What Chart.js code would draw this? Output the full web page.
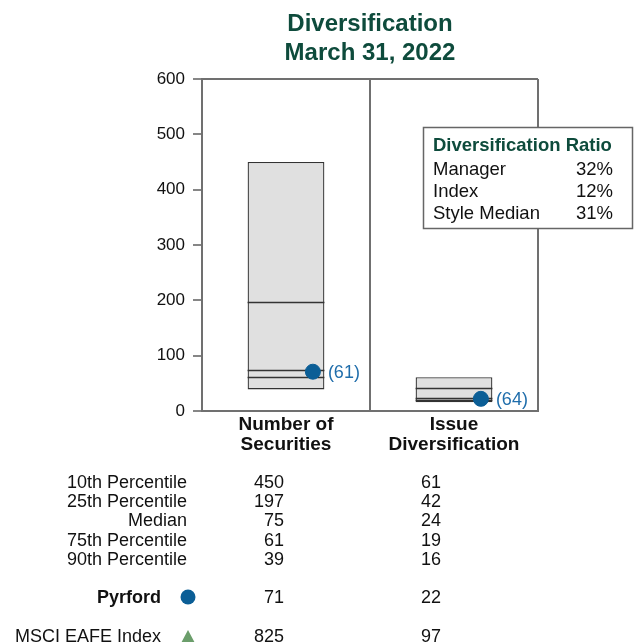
<!DOCTYPE html>
<html>
<head>
<meta charset="utf-8">
<script src="https://cdn.jsdelivr.net/npm/chart.js@4/dist/chart.umd.min.js"></script>
<style>
  html, body { margin: 0; padding: 0; background: #fff; }
  #wrap { width: 639px; height: 642px; position: relative; overflow: hidden; }
</style>
</head>
<body>
<div id="wrap"><canvas id="c"></canvas></div>
<script>
// Universe distribution per statistic
const categories = [['Number of', 'Securities'], ['Issue', 'Diversification']];
const p10 = [450, 61];
const p25 = [197, 42];
const median = [75, 24];
const p75 = [61, 19];
const p90 = [39, 16];

// Manager and benchmark
const pyrford = [71, 22];
const pyrfordRank = [61, 64];
const msciEafe = [825, 97];

const rowLabels = ['10th Percentile', '25th Percentile', 'Median', '75th Percentile', '90th Percentile'];
const ratioLabels = ['Manager', 'Index', 'Style Median'];
const ratioValues = ['32%', '12%', '31%'];

const yMin = 0, yMax = 600, yStep = 100;

const FONT = '"Liberation Sans", Arial, Helvetica, sans-serif';
const GREEN = '#0e4b3c';
const BLUE_DOT = '#0b5e96';
const BLUE_TXT = '#1f6dab';
const FRAME = '#707070';

const overlay = {
  id: 'overlay',
  afterDatasetDraw(chart, args) {
    if (args.index !== 0) return;
    const ctx = chart.ctx;
    const y = chart.scales.y;
    const meta = chart.getDatasetMeta(0);
    ctx.save();
    ctx.strokeStyle = '#333';
    ctx.lineWidth = 1.3;
    meta.data.forEach((bar, i) => {
      const half = bar.width / 2;
      [p25[i], median[i], p75[i]].forEach(v => {
        const py = Math.round(y.getPixelForValue(v)) + 0.5;
        ctx.beginPath();
        ctx.moveTo(bar.x - half, py);
        ctx.lineTo(bar.x + half, py);
        ctx.stroke();
      });
    });
    ctx.restore();
  },
  afterDraw(chart) {
    const ctx = chart.ctx;
    const area = chart.chartArea;
    const x = chart.scales.x;
    ctx.save();

    // Title
    const cx = (area.left + area.right) / 2;
    ctx.fillStyle = GREEN;
    ctx.font = 'bold 24px ' + FONT;
    ctx.textAlign = 'center';
    ctx.textBaseline = 'alphabetic';
    ctx.fillText('Diversification', cx, 31);
    ctx.fillText('March 31, 2022', cx, 60);

    // Rank labels beside the manager dots
    const pm = chart.getDatasetMeta(1);
    ctx.font = '18px ' + FONT;
    ctx.fillStyle = BLUE_TXT;
    ctx.textAlign = 'left';
    ctx.textBaseline = 'middle';
    pm.data.forEach((pt, i) => {
      ctx.fillText('(' + pyrfordRank[i] + ')', pt.x + 15, pt.y + 1);
    });

    // Diversification ratio box
    const bx = 423.5, by = 127.5, bw = 209, bh = 101;
    ctx.fillStyle = '#fff';
    ctx.fillRect(bx, by, bw, bh);
    ctx.strokeStyle = '#666';
    ctx.lineWidth = 1.5;
    ctx.strokeRect(bx, by, bw, bh);
    ctx.textBaseline = 'alphabetic';
    ctx.textAlign = 'left';
    ctx.fillStyle = GREEN;
    ctx.font = 'bold 18.5px ' + FONT;
    ctx.fillText('Diversification Ratio', bx + 9.5, 151);
    ctx.font = '18.5px ' + FONT;
    ctx.fillStyle = '#111';
    ratioLabels.forEach((lab, i) => {
      const ly = 175 + i * 22;
      ctx.textAlign = 'left';
      ctx.fillText(lab, bx + 9.5, ly);
      ctx.textAlign = 'right';
      ctx.fillText(ratioValues[i], 613, ly);
    });

    // Statistics table
    const col0 = x.getPixelForValue(0) - 2;
    const col1 = x.getPixelForValue(1) - 13;
    const labRight = 187;
    const base = area.bottom;
    ctx.fillStyle = '#111';
    ctx.font = '18px ' + FONT;
    const stats = [p10, p25, median, p75, p90];
    rowLabels.forEach((lab, r) => {
      const ly = base + 77 + r * 19.2;
      ctx.textAlign = 'right';
      ctx.fillText(lab, labRight, ly);
      ctx.fillText(String(stats[r][0]), col0, ly);
      ctx.fillText(String(stats[r][1]), col1, ly);
    });

    // Manager row
    const yMgr = base + 192;
    ctx.font = 'bold 18px ' + FONT;
    ctx.textAlign = 'right';
    ctx.fillText('Pyrford', 161, yMgr);
    ctx.font = '18px ' + FONT;
    ctx.fillText(String(pyrford[0]), col0, yMgr);
    ctx.fillText(String(pyrford[1]), col1, yMgr);
    ctx.fillStyle = BLUE_DOT;
    ctx.beginPath();
    ctx.arc(188, yMgr - 6, 7.5, 0, Math.PI * 2);
    ctx.fill();

    // Benchmark row
    const yIdx = base + 231;
    ctx.fillStyle = '#111';
    ctx.textAlign = 'right';
    ctx.fillText('MSCI EAFE Index', 161, yIdx);
    ctx.fillText(String(msciEafe[0]), col0, yIdx);
    ctx.fillText(String(msciEafe[1]), col1, yIdx);
    ctx.fillStyle = '#6b9e6b';
    ctx.beginPath();
    ctx.moveTo(188, yIdx - 12);
    ctx.lineTo(196, yIdx + 3);
    ctx.lineTo(180, yIdx + 3);
    ctx.closePath();
    ctx.fill();

    ctx.restore();
  }
};

new Chart(document.getElementById('c'), {
  type: 'bar',
  data: {
    labels: categories,
    datasets: [
      {
        label: 'Universe',
        data: categories.map((_, i) => [p90[i], p10[i]]),
        backgroundColor: '#e0e0e0',
        borderColor: '#333',
        borderWidth: 1.3,
        borderSkipped: false,
        grouped: false,
        barPercentage: 0.457,
        categoryPercentage: 1,
        order: 2
      },
      {
        type: 'scatter',
        label: 'Pyrford',
        xAxisID: 'xp',
        data: pyrford.map((v, i) => ({ x: i + 0.16, y: v })),
        backgroundColor: BLUE_DOT,
        borderColor: BLUE_DOT,
        pointRadius: 7.5,
        pointHoverRadius: 7.5,
        order: 1
      }
    ]
  },
  options: {
    responsive: true,
    maintainAspectRatio: false,
    animation: false,
    events: [],
    layout: { padding: { top: 79, right: 101, bottom: 0, left: 0 } },
    plugins: {
      legend: { display: false },
      title: { display: false },
      tooltip: { enabled: false }
    },
    scales: {
      x: {
        type: 'category',
        afterFit(scale) { scale.height = 231; },
        grid: {
          offset: true,
          color: FRAME,
          lineWidth: 2,
          drawTicks: false
        },
        border: { display: true, color: FRAME, width: 2 },
        ticks: {
          color: '#111',
          padding: 4,
          font: { family: FONT, size: 19, weight: 'bold', lineHeight: 1.05 }
        }
      },
      xp: {
        type: 'linear',
        display: false,
        offset: false,
        grid: { offset: false },
        min: -0.5,
        max: 1.5
      },
      y: {
        min: yMin,
        max: yMax,
        afterFit(scale) { scale.width = 202; },
        ticks: {
          stepSize: yStep,
          color: '#111',
          padding: 8,
          font: { family: FONT, size: 17 }
        },
        grid: {
          color: ctx => (ctx.tick && ctx.tick.value === yMax ? FRAME : 'rgba(0,0,0,0)'),
          lineWidth: 2,
          tickColor: '#444',
          tickLength: 9,
          tickWidth: 1.3
        },
        border: { display: true, color: FRAME, width: 2 }
      }
    }
  },
  plugins: [overlay]
});
</script>
</body>
</html>
